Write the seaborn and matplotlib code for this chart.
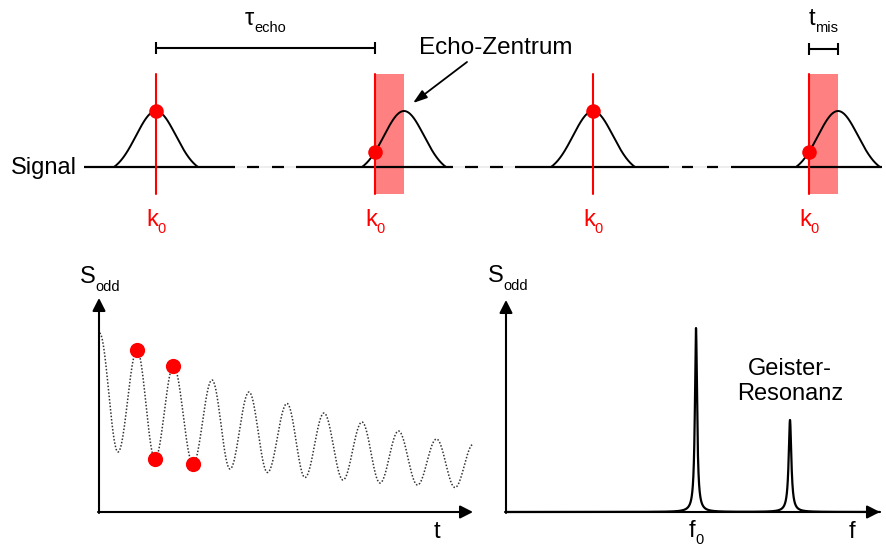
import numpy as np
import matplotlib
matplotlib.use("Agg")
import matplotlib.pyplot as plt
from matplotlib.patches import Rectangle
from matplotlib.transforms import offset_copy
import seaborn as sns

# ---------------- echo train (top row) ----------------
ECHO_CENTERS = [156, 404, 593, 838]          # echo maxima along the readout
K0_POSITIONS = [156, 375, 593, 809]          # k0 sampling positions
PULSE_HALF_WIDTH = 42
PULSE_SIGMA = 20
BASELINE_SOLID = [(84, 235), (296, 453), (515, 669), (731, 882)]
BASELINE_DASHES = [(247, 259), (272, 284), (465, 478), (490, 503),
                   (682, 693), (707, 718)]

# ---------------- odd-echo signal vs. time (bottom left) ----------------
T_EXTREMA = [0.5, 19, 38, 56, 74.5, 94, 113, 131, 150, 168.5, 188, 206,
             225, 244, 263, 281, 299.5, 318.5, 337.5, 356, 374.5]
S_EXTREMA = [179, 60, 162, 53, 146, 48, 132, 43, 120, 39.5, 108.5, 34.5,
             99, 32, 90, 29, 81, 27, 73, 24.5, 68]
SAMPLED_EXTREMA = [2, 3, 4, 5]

# ---------------- spectrum (bottom right) ----------------
PEAK_FREQS = [190, 284]
PEAK_HEIGHTS = [184, 92]
PEAK_WIDTHS = [1.3, 1.6]

RED = "#ff0000"
LIGHT_RED = "#ff8080"

sns.set_theme(style="white")
plt.rcParams["font.family"] = ["Liberation Sans", "DejaVu Sans"]
plt.rcParams["text.color"] = "black"

W, H = 887, 547
fig = plt.figure(figsize=(W / 100, H / 100), dpi=100)
fig.patch.set_facecolor("white")
renderer = fig.canvas.get_renderer()
PX2PT = 72 / fig.dpi


def sub_label(ax, x, y, main, sub, size=17, subsize=10.5, drop=7,
              color="black", ha="center"):
    """Main text with a lowered, smaller subscript, anchored on the main baseline."""
    tm = ax.text(x, y, main, fontsize=size, color=color, ha="left", va="baseline")
    ts = ax.text(x, y, sub, fontsize=subsize, color=color, ha="left", va="baseline")
    wm = tm.get_window_extent(renderer).width
    ws = ts.get_window_extent(renderer).width
    total = wm + ws
    x0 = {"center": -total / 2, "left": 0.0, "right": -total}[ha]
    tm.set_transform(offset_copy(ax.transData, fig=fig, x=x0 * PX2PT, y=0,
                                 units="points"))
    ts.set_transform(offset_copy(ax.transData, fig=fig, x=(x0 + wm) * PX2PT,
                                 y=-drop * PX2PT, units="points"))


# ===== top row: echo train =====
BASE_PY, UNIT_PX = 167, 56          # baseline row and pixel height of one amplitude unit
TOP_PX = 250


def amp(py):
    return (BASE_PY - py) / UNIT_PX


ax_top = fig.add_axes([0, (H - TOP_PX) / H, 1, TOP_PX / H])
ax_top.set_xlim(0, W)
ax_top.set_ylim(amp(TOP_PX), amp(0))
ax_top.set_axis_off()


def pulse(x, c):
    u = np.asarray(x, dtype=float) - c
    g = np.exp(-u ** 2 / (2 * PULSE_SIGMA ** 2))
    g0 = np.exp(-PULSE_HALF_WIDTH ** 2 / (2 * PULSE_SIGMA ** 2))
    return np.clip((g - g0) / (1 - g0), 0, None)


# faint continuation under the dashed gaps, then solid pieces and dashes
for seg_a, seg_b in zip(BASELINE_SOLID[:-1], BASELINE_SOLID[1:]):
    ax_top.plot([seg_a[1], seg_b[0]], [0, 0], color="#eeeeee", lw=1.4, zorder=1.5)
for a, b in BASELINE_SOLID + BASELINE_DASHES:
    ax_top.plot([a, b], [0, 0], color="black", lw=1.6, zorder=2,
                solid_capstyle="butt")

line_lo, line_hi = amp(194), amp(74)
for c, k in zip(ECHO_CENTERS, K0_POSITIONS):
    xs = np.linspace(c - PULSE_HALF_WIDTH, c + PULSE_HALF_WIDTH, 300)
    sns.lineplot(x=xs, y=pulse(xs, c), ax=ax_top, color="black", lw=1.4,
                 estimator=None, sort=False, zorder=3)
    if k != c:
        ax_top.add_patch(Rectangle((k, line_lo), c - k, line_hi - line_lo,
                                   facecolor=LIGHT_RED, edgecolor="none", zorder=1))
    ax_top.plot([k, k], [line_lo, line_hi], color=RED, lw=1.5, zorder=4)
    sub_label(ax_top, k, amp(226), "k", "0", size=17, subsize=10.5, drop=7, color=RED)

sns.scatterplot(x=K0_POSITIONS,
                y=[float(pulse(k, c)) for k, c in zip(K0_POSITIONS, ECHO_CENTERS)],
                ax=ax_top, color=RED, s=110, linewidth=0, zorder=5)


def bracket(x0, x1, py):
    y = amp(py)
    tick = 6 / UNIT_PX
    ax_top.plot([x0, x1], [y, y], color="black", lw=1.5, solid_capstyle="butt")
    for x in (x0, x1):
        ax_top.plot([x, x], [y - tick, y + tick], color="black", lw=1.5,
                    solid_capstyle="butt")


# echo spacing and timing mismatch
bracket(K0_POSITIONS[0], K0_POSITIONS[1], 48)
sub_label(ax_top, (K0_POSITIONS[0] + K0_POSITIONS[1]) / 2, amp(25), "τ", "echo",
          size=17, subsize=10.5, drop=7)
bracket(K0_POSITIONS[3], ECHO_CENTERS[3], 49)
sub_label(ax_top, (K0_POSITIONS[3] + ECHO_CENTERS[3]) / 2, amp(25), "t", "mis",
          size=17, subsize=10.5, drop=7)

ax_top.text(77, amp(174), "Signal", fontsize=17, ha="right", va="baseline")
ax_top.text(496, amp(54), "Echo-Zentrum", fontsize=17.5, ha="center", va="baseline")
ax_top.annotate("", xy=(413, amp(103)), xytext=(467, amp(62)),
                arrowprops=dict(arrowstyle="-|>,head_length=0.6,head_width=0.2",
                                color="black", lw=1.3, mutation_scale=14,
                                shrinkA=0, shrinkB=0))

# ===== bottom row =====
BOT_PX = H - TOP_PX
OX_T, OX_F, OY = 99, 506, 512


def bottom_axes(x_left_px, x_right_px, origin_x):
    ax = fig.add_axes([x_left_px / W, 0, (x_right_px - x_left_px) / W, BOT_PX / H])
    ax.set_xlim(x_left_px - origin_x, x_right_px - origin_x)
    ax.set_ylim(OY - H, OY - TOP_PX)
    ax.set_axis_off()
    return ax


ax_t = bottom_axes(0, 485, OX_T)
ax_f = bottom_axes(485, W, OX_F)

AX_ARROW = dict(arrowstyle="-|>,head_length=0.55,head_width=0.28", color="black",
                lw=1.5, mutation_scale=14, shrinkA=0, shrinkB=0)


def draw_axes(ax, x_tip, y_tip):
    ax.annotate("", xy=(x_tip, 0), xytext=(-1, 0), arrowprops=AX_ARROW, zorder=6)
    ax.annotate("", xy=(0, y_tip), xytext=(0, -1), arrowprops=AX_ARROW, zorder=6)


# time signal: smooth half-cosine swings between consecutive extrema
ts, ss = [], []
for i in range(len(T_EXTREMA) - 1):
    u = np.linspace(0, 1, 40)[(1 if i else 0):]
    t0, t1 = T_EXTREMA[i], T_EXTREMA[i + 1]
    s0, s1 = S_EXTREMA[i], S_EXTREMA[i + 1]
    ts.append(t0 + (t1 - t0) * u)
    ss.append(s0 + (s1 - s0) * (1 - np.cos(np.pi * u)) / 2)
ts, ss = np.concatenate(ts), np.concatenate(ss)
sns.lineplot(x=ts, y=ss, ax=ax_t, color="#333333", lw=1.1,
             linestyle=(0, (1.0, 1.2)), estimator=None, sort=False, zorder=3)
sns.scatterplot(x=[T_EXTREMA[i] for i in SAMPLED_EXTREMA],
                y=[S_EXTREMA[i] for i in SAMPLED_EXTREMA],
                ax=ax_t, color=RED, s=120, linewidth=0, zorder=5)
draw_axes(ax_t, 374, 214)
sub_label(ax_t, -19, OY - 283, "S", "odd", size=17, subsize=10.5, drop=8, ha="left")
ax_t.text(338, OY - 538, "t", fontsize=17, ha="center", va="baseline")

# spectrum: Lorentzian lines
fs = np.linspace(0, 374, 6000)
spec = np.zeros_like(fs)
for f0, h, g in zip(PEAK_FREQS, PEAK_HEIGHTS, PEAK_WIDTHS):
    spec += h * g ** 2 / ((fs - f0) ** 2 + g ** 2)
sns.lineplot(x=fs, y=spec, ax=ax_f, color="black", lw=1.6,
             estimator=None, sort=False, zorder=3)
draw_axes(ax_f, 374, 212)
sub_label(ax_f, -18, OY - 282, "S", "odd", size=17, subsize=10.5, drop=8, ha="left")
ax_f.text(346, OY - 538, "f", fontsize=17, ha="center", va="baseline")
sub_label(ax_f, PEAK_FREQS[0], OY - 537, "f", "0", size=17, subsize=10.5, drop=7)
ax_f.text(PEAK_FREQS[1], OY - 375, "Geister-", fontsize=17, ha="center", va="baseline")
ax_f.text(PEAK_FREQS[1], OY - 400, "Resonanz", fontsize=17, ha="center", va="baseline")

fig.savefig("out.png", dpi=100, facecolor="white")
